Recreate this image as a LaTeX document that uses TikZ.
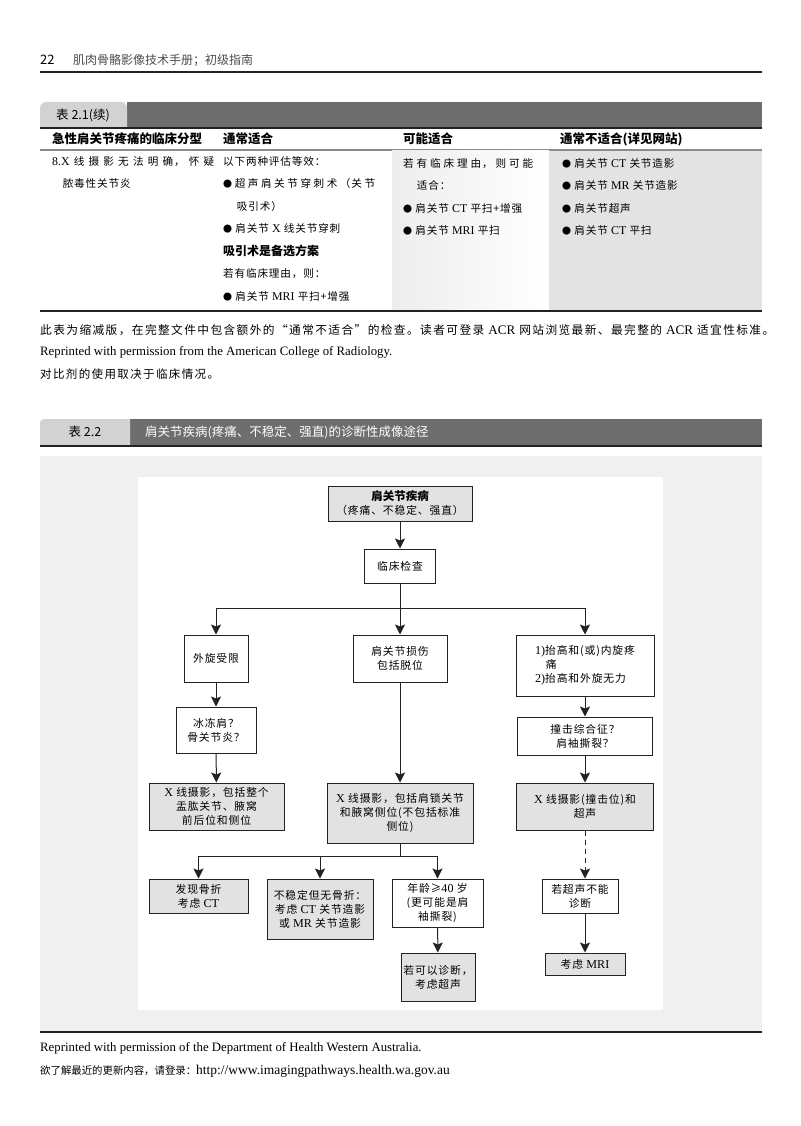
\documentclass[tikz,border=0pt]{standalone}
\usepackage{fontspec}
\setmainfont{Noto Sans CJK SC}
\newfontfamily\spfont[LetterSpace=8]{Noto Sans CJK SC}
\newfontfamily\spwide[LetterSpace=12]{Noto Sans CJK SC}
\newfontfamily\latfont[Scale=1.12]{Liberation Serif}
\newfontfamily\notefont{Liberation Serif}
\newcommand\lat[1]{{\latfont #1}}
\newcommand\bul{{\fontsize{9}{9}\selectfont ●}\ }
\usepackage{tikz}
\usetikzlibrary{positioning,arrows.meta}
\usepackage{xcolor}
\definecolor{bargray}{HTML}{6E6E6E}
\definecolor{tabgray}{HTML}{D2D2D2}
\definecolor{cellgray}{HTML}{E3E3E3}
\definecolor{panelgray}{HTML}{F0F0F0}
\definecolor{boxgray}{HTML}{E2E2E2}
\definecolor{ink}{HTML}{222222}

\begin{document}
\begin{tikzpicture}[
    x=1pt, y=-1pt,
    >={Stealth[length=10pt,width=10pt,inset=2pt]},
    box/.style={draw=ink, line width=1pt, fill=white, align=center, inner sep=2pt,
        font=\spfont\fontsize{10.8}{14}\selectfont},
    graybox/.style={box, fill=boxgray},
    conn/.style={draw=ink, line width=1pt},
    headtxt/.style={anchor=west, inner sep=0pt, font=\bfseries\fontsize{12.5}{14}\selectfont},
    celltxt/.style={anchor=north west, inner sep=0pt, align=left,
        font=\spfont\fontsize{10.6}{22.5}\selectfont},
    notetxt/.style={anchor=west, inner sep=0pt, font=\spwide\fontsize{11.5}{14}\selectfont}
]
\useasboundingbox (0,0) rectangle (800,1126);
\fill[white] (0,0) rectangle (800,1126);

% page header
\node[anchor=west, inner sep=0pt, font=\fontsize{13}{14}\selectfont] (pgnum) at (40,60) {22};
\node[anchor=west, inner sep=0pt, text=black!70, font=\fontsize{12}{14}\selectfont] (booktitle) at (73,60) {肌肉骨骼影像技术手册；初级指南};
\draw[ink, line width=1.6pt] (40,72) -- (762,72);

% table 2.1 (continued)
\fill[bargray] (127,102) rectangle (762,127);
\fill[tabgray] (40,127) [rounded corners=6pt] -- (40,102) -- (127,102) [sharp corners] -- (127,127) -- cycle;
\node[font=\fontsize{12.5}{14}\selectfont] (tabA) at (83,115) {表 2.1(续)};
\draw[ink, line width=2pt] (40,128) -- (762,128);

\node[headtxt] (hdA) at (52,139) {急性肩关节疼痛的临床分型};
\node[headtxt] (hdB) at (223,139) {通常适合};
\node[headtxt] (hdC) at (403,139) {可能适合};
\node[headtxt] (hdD) at (560,139) {通常不适合(详见网站)};
\draw[black!45, line width=1.5pt] (40,150) -- (762,150);

\shade[left color=black!7, right color=white] (392,151) rectangle (549,310);
\fill[cellgray] (549,151) rectangle (762,310);
\draw[ink, line width=2pt] (40,311) -- (762,311);

\node[celltxt] (cellA) at (52,156) {\makebox[162pt][s]{\lat{8.X} 线 摄 影 无 法 明 确， 怀 疑}\\\hspace*{1em}脓毒性关节炎};
\node[celltxt] (cellB) at (223,156) {以下两种评估等效：\\
    \makebox[152pt][s]{\bul 超 声 肩 关 节 穿 刺 术 （关 节}\\
    \hspace*{1.3em}吸引术）\\
    \bul 肩关节 \lat{X} 线关节穿刺\\
    {\rmfamily\bfseries\fontsize{12}{22.5}\selectfont 吸引术是备选方案}\\
    若有临床理由，则：\\
    \bul 肩关节 \lat{MRI} 平扫+增强};
\node[celltxt] (cellC) at (403,158) {\makebox[130pt][s]{若 有 临 床 理 由， 则 可 能}\\
    \hspace*{1.3em}适合：\\
    \bul 肩关节 \lat{CT} 平扫+增强\\
    \bul 肩关节 \lat{MRI} 平扫};
\node[celltxt] (cellD) at (562,158) {\bul 肩关节 \lat{CT} 关节造影\\
    \bul 肩关节 \lat{MR} 关节造影\\
    \bul 肩关节超声\\
    \bul 肩关节 \lat{CT} 平扫};

% notes under table 2.1
\node[notetxt, font=\spwide\fontsize{11.7}{14}\selectfont] (noteA) at (40,330) {此表为缩减版，在完整文件中包含额外的“通常不适合”的检查。读者可登录 \lat{ACR} 网站浏览最新、最完整的 \lat{ACR} 适宜性标准。};
\node[notetxt, font=\notefont\fontsize{12.8}{14}\selectfont] (noteB) at (40,352) {Reprinted with permission from the American College of Radiology.};
\node[notetxt] (noteC) at (40,374) {对比剂的使用取决于临床情况。};

% table 2.2
\fill[bargray] (130,419) rectangle (762,445);
\fill[tabgray] (40,445) [rounded corners=4pt] -- (40,419) [sharp corners] -- (130,419) -- (130,445) -- cycle;
\node[font=\fontsize{12.5}{14}\selectfont] (tabB) at (85,432) {表 2.2};
\node[anchor=west, inner sep=0pt, text=white, font=\fontsize{12.5}{14}\selectfont] (ttlB) at (145,432) {肩关节疾病(疼痛、不稳定、强直)的诊断性成像途径};
\draw[ink, line width=2pt] (40,446) -- (762,446);

\fill[panelgray] (40,456) rectangle (762,1031);
\fill[white] (138,477) rectangle (663,1010);

% flowchart
\node[graybox, minimum width=144pt, minimum height=35pt] (top) at (400,503.5) {{\rmfamily\bfseries\fontsize{11.5}{14}\selectfont 肩关节疾病}\\（疼痛、不稳定、强直）};
\node[box, minimum width=71pt, minimum height=34pt] (exam) at (400,566) {临床检查};

\node[box, minimum width=64pt, minimum height=47pt] (extrot) at (216,658.5) {外旋受限};
\node[box, minimum width=94pt, minimum height=47pt] (injury) at (400,658.5) {肩关节损伤\\包括脱位};
\node[box, minimum width=138pt, minimum height=61pt, align=left] (pain) at (585,665.5) {\lat{1)}抬高和(或)内旋疼\\\hspace*{1em}痛\\\lat{2)}抬高和外旋无力};

\node[box, minimum width=80pt, minimum height=46pt] (frozen) at (216,730) {冰冻肩？\\骨关节炎？};
\node[box, minimum width=135pt, minimum height=38pt] (impinge) at (585,736) {撞击综合征？\\肩袖撕裂？};

\node[graybox, minimum width=135pt, minimum height=47pt] (xrA) at (216.5,806.5) {\lat{X} 线摄影，包括整个\\盂肱关节、腋窝\\前后位和侧位};
\node[graybox, minimum width=146pt, minimum height=60pt] (xrB) at (400,813) {\lat{X} 线摄影，包括肩锁关节\\和腋窝侧位(不包括标准\\侧位)};
\node[graybox, minimum width=137pt, minimum height=47pt] (xrC) at (585,806.5) {\lat{X} 线摄影(撞击位)和\\超声};

\node[graybox, minimum width=99pt, minimum height=34pt] (frac) at (198.5,896) {发现骨折\\考虑 \lat{CT}};
\node[graybox, minimum width=106pt, minimum height=60pt] (unstable) at (320,909) {不稳定但无骨折：\\考虑 \lat{CT} 关节造影\\或 \lat{MR} 关节造影};
\node[box, minimum width=91pt, minimum height=48pt] (age) at (437.5,903) {年龄≥\lat{40} 岁\\(更可能是肩\\袖撕裂)};
\node[graybox, minimum width=74pt, minimum height=48pt] (ifus) at (438,977) {若可以诊断，\\考虑超声};
\node[box, minimum width=76pt, minimum height=34pt] (usfail) at (580,896) {若超声不能\\诊断};
\node[graybox, minimum width=80pt, minimum height=22pt] (mri) at (585,964) {考虑 \lat{MRI}};

\coordinate (split) at (400,608);
\coordinate (splitB) at (400,856);

\draw[conn, ->] (top) -- (exam);
\draw[conn] (exam) -- (split);
\draw[conn, ->] (split) -| (extrot);
\draw[conn, ->] (split) -- (injury);
\draw[conn, ->] (split) -| (pain);

\draw[conn, ->] (extrot) -- (frozen);
\draw[conn, ->] (frozen) -- (xrA);
\draw[conn, ->] (injury) -- (xrB);
\draw[conn, ->] (pain) -- (impinge);
\draw[conn, ->] (impinge) -- (xrC);

\draw[conn] (xrB) -- (splitB);
\draw[conn, ->] (splitB) -| (frac);
\draw[conn, ->] (splitB) -| (unstable);
\draw[conn, ->] (splitB) -| (age);
\draw[conn, ->] (age) -- (ifus);

\draw[conn, ->, dash pattern=on 5pt off 4pt] (xrC.south) -- (xrC.south |- usfail.north);
\draw[conn, ->] (usfail.south -| mri.north) -- (mri.north);

% footer
\draw[ink, line width=2pt] (40,1032) -- (762,1032);
\node[notetxt, font=\notefont\fontsize{12.8}{14}\selectfont] (srcB) at (40,1048) {Reprinted with permission of the Department of Health Western Australia.};
\node[notetxt, font=\rmfamily\fontsize{10.4}{14}\selectfont] (urlB) at (40,1071) {欲了解最近的更新内容，请登录：{\notefont\fontsize{13.5}{14}\selectfont http://www.imagingpathways.health.wa.gov.au}};

\end{tikzpicture}
\end{document}
